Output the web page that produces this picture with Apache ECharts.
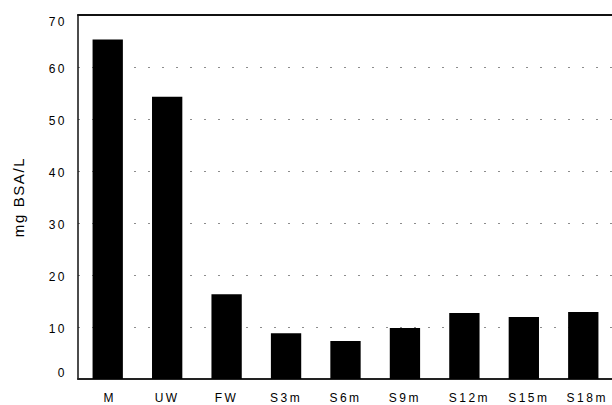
<!DOCTYPE html>
<html>
<head>
<meta charset="utf-8">
<script src="https://cdn.jsdelivr.net/npm/echarts@6/dist/echarts.min.js"></script>
<style>
  html, body { margin: 0; padding: 0; background: #fff; }
  #chart { width: 612px; height: 405px; }
  /* wide-tracked lettering for the axis text */
  #chart text { letter-spacing: 2.5px; }
  #chart text[style*="15px"] { letter-spacing: 1.6px; }
</style>
</head>
<body>
<div id="chart"></div>
<script>
// Sample groups and measured protein concentration (mg BSA/L)
const categories = ['M', 'UW', 'FW', 'S3m', 'S6m', 'S9m', 'S12m', 'S15m', 'S18m'];
const concentration = [65.3, 54.3, 16.3, 8.8, 7.3, 9.8, 12.7, 11.9, 12.9];
const yTicks = [0, 10, 20, 30, 40, 50, 60, 70];

const font = 'Liberation Sans, Arial, sans-serif';

// small nudges for individual tick labels (rich-text padding)
const xLabelNudge = { M: 4, S12m: 10, S15m: 10, S18m: 8 };
function yLabelPadding(v) {
  if (v === yTicks[0]) return [0, 0, 12, 0];
  if (v === yTicks[yTicks.length - 1]) return [13, 0, 0, 0];
  return [4, 0, 0, 0];
}

const xRich = {};
categories.forEach(function (c, i) {
  xRich['x' + i] = { padding: [0, 0, 0, xLabelNudge[c] || 0] };
});
const yRich = {};
yTicks.forEach(function (v) {
  yRich['y' + v] = { padding: yLabelPadding(v) };
});

const chart = echarts.init(document.getElementById('chart'), null, { renderer: 'svg' });

chart.setOption({
  animation: false,
  backgroundColor: '#fff',
  grid: {
    left: 78, right: -1, top: 15, bottom: 26,
    containLabel: false,
    outerBoundsMode: 'none'
  },
  xAxis: [
    {
      type: 'category',
      data: categories,
      position: 'bottom',
      axisLine: { show: true, lineStyle: { color: '#222', width: 2 } },
      axisTick: { show: false },
      axisLabel: {
        interval: 0,
        hideOverlap: false,
        color: '#000', fontFamily: font, fontSize: 12, margin: 13,
        formatter: function (val, idx) { return '{x' + idx + '|' + val + '}'; },
        rich: xRich
      }
    },
    {
      // top frame line
      type: 'category',
      data: categories,
      position: 'top',
      axisLine: { show: true, lineStyle: { color: '#111', width: 2 } },
      axisTick: { show: false },
      axisLabel: { show: false }
    }
  ],
  yAxis: {
    type: 'value',
    min: yTicks[0],
    max: yTicks[yTicks.length - 1],
    interval: 10,
    name: 'mg BSA/L',
    nameLocation: 'middle',
    nameGap: 52,
    nameRotate: 90,
    nameTextStyle: { color: '#000', fontFamily: font, fontSize: 15 },
    axisLine: { show: true, lineStyle: { color: '#111', width: 1.5 } },
    axisTick: { show: false },
    axisLabel: {
      color: '#000', fontFamily: font, fontSize: 12, margin: 11,
      formatter: function (val) { return '{y' + val + '|' + val + '}'; },
      rich: yRich
    },
    splitLine: {
      show: true,
      lineStyle: { color: '#8c8c8c', width: 1, type: [2, 12] }
    }
  },
  series: [
    {
      type: 'bar',
      data: concentration,
      barWidth: '51%',
      itemStyle: { color: '#000' }
    }
  ]
});
</script>
</body>
</html>
